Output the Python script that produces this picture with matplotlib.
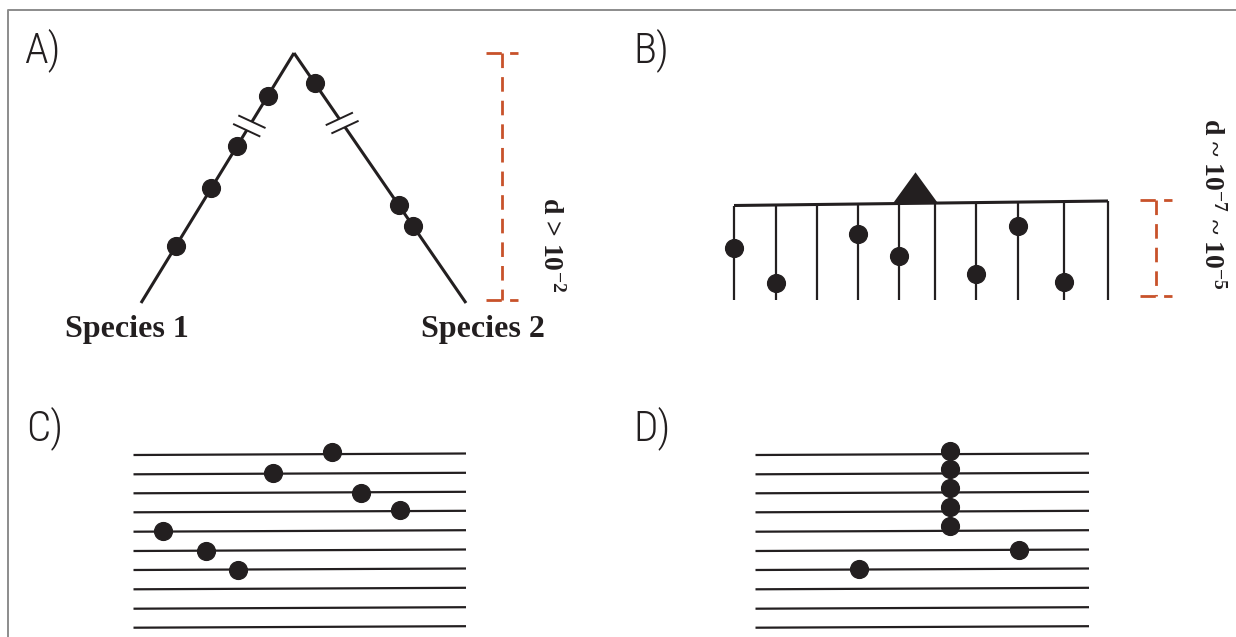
import numpy as np
import matplotlib.pyplot as plt

plt.rcParams['lines.scale_dashes'] = False
plt.rcParams['lines.solid_capstyle'] = 'butt'
plt.rcParams['mathtext.fontset'] = 'custom'
plt.rcParams['mathtext.bf'] = 'Liberation Serif:bold'
plt.rcParams['mathtext.rm'] = 'Liberation Serif:bold'
plt.rcParams['mathtext.default'] = 'bf'

INK = '#231f20'
ORANGE = '#c8522a'
LABEL_FONT = ['Roboto Condensed', 'Roboto', 'DejaVu Sans']
SERIF_FONT = ['Liberation Serif', 'DejaVu Serif']

# A) two species, mutations along each branch (fraction of branch length from the root)
root_a = (294, 53)
leaf_a_x = [141, 466]
leaf_a_y = 303
species = ['Species 1', 'Species 2']
mut_left = [0.172, 0.372, 0.54, 0.772]
mut_right = [0.12, 0.608, 0.692]
break_t = [0.292, 0.28]
div_a = (53, 300)
div_a_text = r'd > 10$^{-2}$'

# B) a population: lineages hanging from one ancestor line
lineage_x = [734, 776, 817, 858, 899, 935, 976, 1018, 1064, 1108]
anc_y = (205.5, 201)
tip_y = 300
mut_b_idx = [0, 1, 3, 4, 6, 7, 8]
mut_b_y = [248, 283, 234, 256, 274, 226, 282]
root_b_x = 915.5
div_b = (200, 296)
div_b_text = r'd ~ 10$^{-7}$ ~ 10$^{-5}$'

# C) / D) ten sequences, mutation positions
row_y = [455, 474.3, 493.3, 512.3, 531.7, 551, 570, 589.3, 608.7, 627.7]
row_tilt = 1.5
c_span = (133.5, 466)
c_mut_x = [332, 273, 361, 400, 162.7, 205.7, 238]
c_mut_y = [452, 473, 492.7, 510, 530.7, 551, 569.5]
d_span = (755.5, 1089)
d_mut_x = [950, 950, 950, 950, 950, 1018.5, 858.5]
d_mut_y = [450.7, 469.3, 488.3, 506.7, 526, 550, 569]

panels = ['A)', 'B)', 'C)', 'D)']
panel_xy = [(24, 62), (633, 62), (26, 440), (633, 440)]

DOT = 12.8


def along(p0, p1, t):
    return p0[0] + (p1[0] - p0[0]) * t, p0[1] + (p1[1] - p0[1]) * t


def bracket(ax, x, y0, y1, half=16):
    ax.plot([x, x], [y0, y1], color=ORANGE, lw=2, dashes=(10.5, 6.5))
    for y in (y0, y1):
        ax.plot([x - half, x + half], [y, y], color=ORANGE, lw=2, dashes=(11, 6))


fig = plt.figure(figsize=(12.36, 6.37), dpi=100)
ax = fig.add_axes([0, 0, 1, 1])
ax.set_xlim(0, 1236)
ax.set_ylim(637, 0)
ax.axis('off')

# frame
ax.plot([7.5, 7.5, 1236], [637, 9.5, 9.5], color='#8c8c8c', lw=1.4)

for lab, (x, y) in zip(panels, panel_xy):
    ax.text(x, y, lab, fontsize=31, family=LABEL_FONT, fontweight='light',
            color=INK, va='baseline')

# --- A
for k, (lx, muts, bt, tilt) in enumerate(zip(leaf_a_x, [mut_left, mut_right], break_t, [1, -1])):
    leaf = (lx, leaf_a_y)
    length = np.hypot(lx - root_a[0], leaf_a_y - root_a[1])
    gap = 5 / length
    p = [along(root_a, leaf, t) for t in (0, bt - gap, bt + gap, 1)]
    ax.plot([p[0][0], p[1][0]], [p[0][1], p[1][1]], color=INK, lw=2.2)
    ax.plot([p[2][0], p[3][0]], [p[2][1], p[3][1]], color=INK, lw=2.2)
    ang = np.deg2rad(25) * tilt
    for q in (p[1], p[2]):
        dx, dy = 15 * np.cos(ang), 15 * np.sin(ang)
        ax.plot([q[0] - dx, q[0] + dx], [q[1] - dy, q[1] + dy], color=INK, lw=1.4)
    pts = np.array([along(root_a, leaf, t) for t in muts])
    ax.plot(pts[:, 0], pts[:, 1], 'o', ms=DOT, color=INK, zorder=3)
    ax.text(lx - 14 + 31 * k, 337, species[k], fontsize=23, fontweight='bold',
            family=SERIF_FONT, color=INK, ha='center', va='baseline')

bracket(ax, 502, *div_a)
ax.text(551, 245, div_a_text, rotation=270, fontsize=20, fontweight='bold',
        family=SERIF_FONT, color=INK, ha='center', va='center')

# --- B
top = np.interp(lineage_x, [lineage_x[0], lineage_x[-1]], anc_y)
ax.plot([lineage_x[0], lineage_x[-1]], anc_y, color=INK, lw=2.2)
for x, y in zip(lineage_x, top):
    ax.plot([x, x], [y, tip_y], color=INK, lw=1.6)
ax.plot([lineage_x[i] for i in mut_b_idx], mut_b_y, 'o', ms=DOT, color=INK, zorder=3)
base = np.interp(root_b_x, [lineage_x[0], lineage_x[-1]], anc_y)
ax.fill([root_b_x - 22.5, root_b_x, root_b_x + 22.5], [base, base - 31, base],
        color=INK, zorder=3, lw=0)

bracket(ax, 1156, *div_b)
ax.text(1212, 204, div_b_text, rotation=270, fontsize=20, fontweight='bold',
        family=SERIF_FONT, color=INK, ha='center', va='center')

# --- C and D
for span, mx, my in [(c_span, c_mut_x, c_mut_y), (d_span, d_mut_x, d_mut_y)]:
    for y in row_y:
        ax.plot(span, [y, y - row_tilt], color=INK, lw=1.6)
    ax.plot(mx, my, 'o', ms=DOT, color=INK, zorder=3)

fig.savefig('out.png', dpi=100)
